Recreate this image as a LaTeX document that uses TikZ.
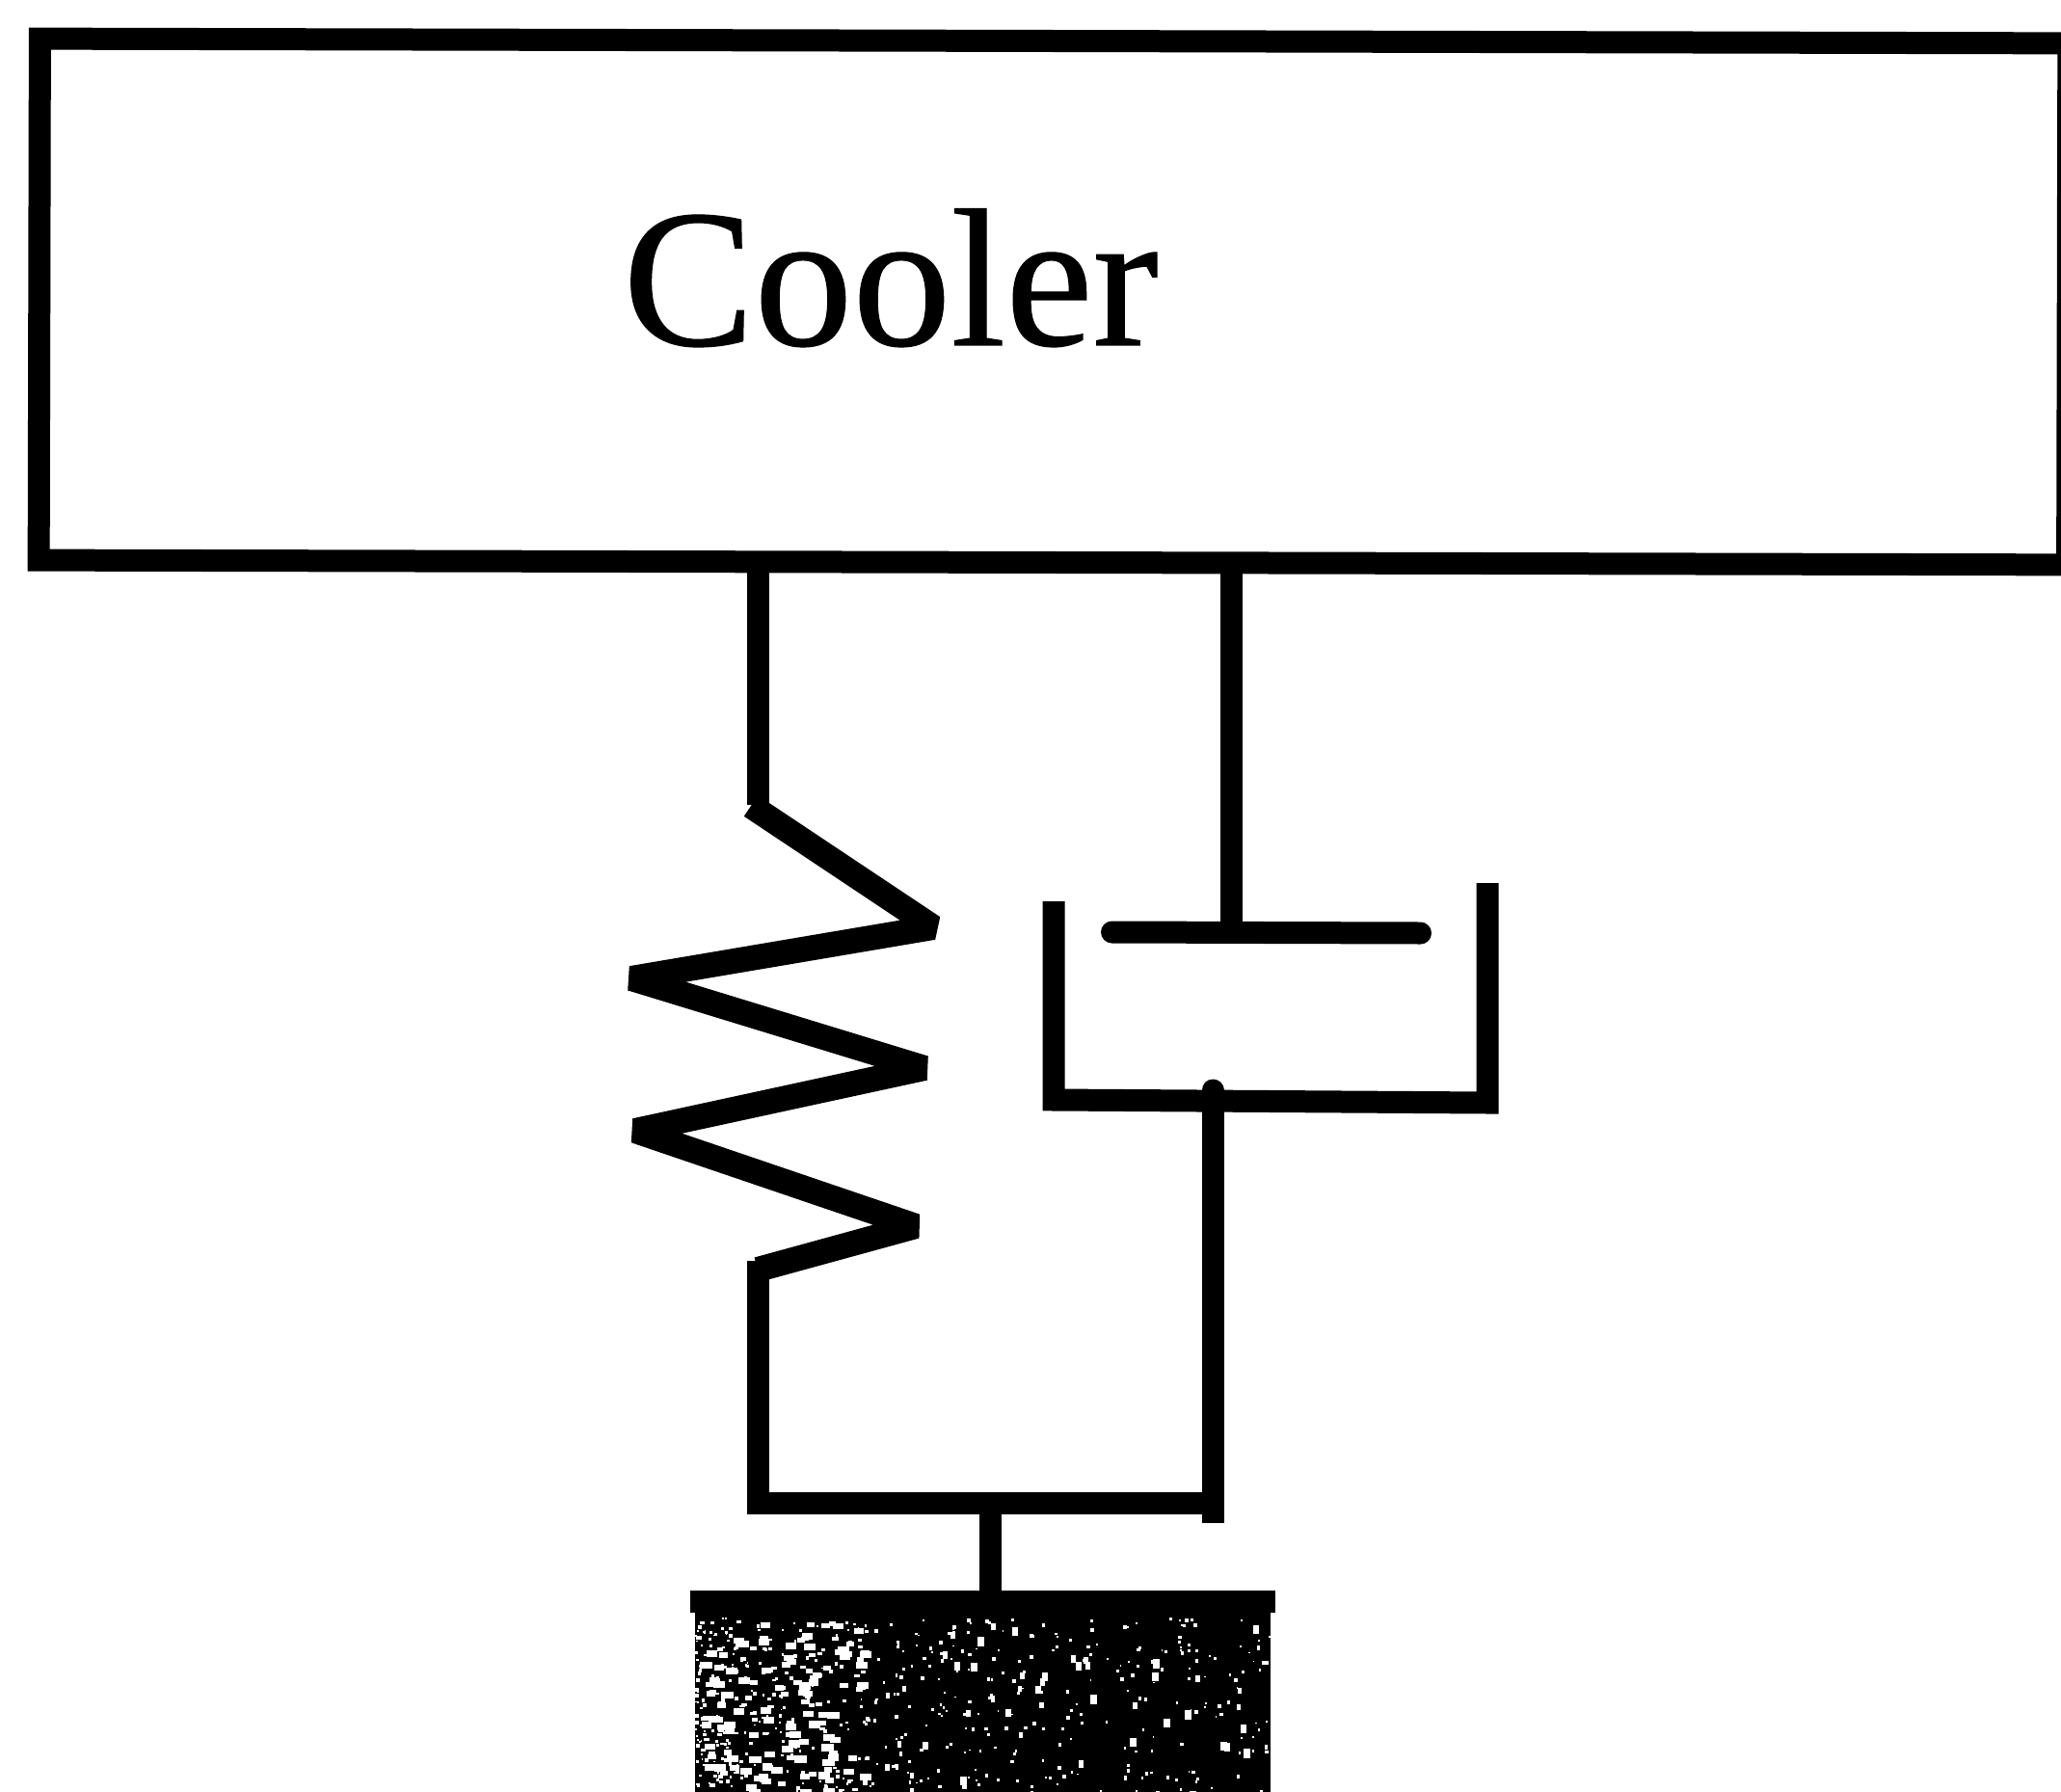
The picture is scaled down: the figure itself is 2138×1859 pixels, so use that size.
\documentclass[tikz,border=0pt]{standalone}
\usepackage{fontspec}
\setmainfont[FakeBold=0.6]{Liberation Serif}
\tikzset{
  heavy/.style={line width=23pt,black,line cap=butt,line join=bevel},
  coolerbox/.style={draw=black,line width=23pt,fill=white,rectangle,inner sep=0pt,outer sep=0pt,minimum width=2104.5pt,minimum height=541pt,rotate=-0.13},
  coolertext/.style={inner sep=0pt,outer sep=0pt,anchor=base,font=\fontsize{204}{204}\selectfont},
  speck/.style={fill=white,draw=none},
}
\begin{document}
\begin{tikzpicture}[x=1pt,y=-1pt]
\useasboundingbox (0,0) rectangle (2138,1859);
\clip (0,0) rectangle (2138,1859);
\fill[white] (0,0) rectangle (2138,1859);
\node[coolerbox] (cooler) at (1093,313) {};
\node[coolertext] (coolerlabel) at (924,358) {Cooler};
% spring
\coordinate (sa) at (786,583);
\coordinate (sb) at (786,835);
\coordinate (s0) at (779,836);
\coordinate (s1) at (968,962);
\coordinate (s2) at (655,1015);
\coordinate (s3) at (959,1108);
\coordinate (s4) at (659,1173);
\coordinate (s5) at (950,1272);
\coordinate (s6) at (786,1317);
\coordinate (sc) at (786,1308);
\coordinate (bl) at (786,1559);
\coordinate (br) at (1258,1559);
\draw[heavy] (sa) -- (sb);
\draw[heavy,line width=26pt] (s0) -- (s1) -- (s2) -- (s3) -- (s4) -- (s5) -- (s6);
\draw[heavy,line join=miter] (sc) -- (bl) -- (br);
% damper
\coordinate (rt) at (1277,583);
\coordinate (rb) at (1277,968);
\coordinate (pl) at (1142,967);
\coordinate (pr) at (1485,968);
\coordinate (cl) at (1093,935);
\coordinate (cbl) at (1093,1141);
\coordinate (cbr) at (1543,1144);
\coordinate (cr) at (1543,916);
\coordinate (lt) at (1258,1131);
\coordinate (lb) at (1258,1580);
\draw[heavy] (rt) -- (rb);
\draw[heavy,line cap=round] ([xshift=11.5pt]pl) -- ([xshift=-11.5pt]pr);
\draw[heavy,line join=miter] (cl) -- (cbl) -- (cbr) -- (cr);
\draw[heavy,line cap=round] (lt) -- (1258,1145);
\draw[heavy] (1258,1140) -- (lb);
% ground
\fill[black] (721,1673) rectangle (1318,1859);
\node[draw=none,fill=black,inner sep=0pt,outer sep=0pt,minimum width=607pt,minimum height=23pt] (ground) at (1019.5,1661.5) {};
\coordinate (stem) at (1027,1559);
\draw[heavy] (stem) -- (stem |- ground.north);
\pgfmathsetseed{4242}
\foreach \i in {1,...,500}{
  \pgfmathsetmacro{\rx}{721+597*pow(rnd,1.7)}
  \pgfmathsetmacro{\ry}{1678+181*rnd}
  \pgfmathsetmacro{\rs}{1.5+2.5*rnd}
  \fill[speck] (\rx,\ry) rectangle (\rx+\rs,\ry+\rs);
}
\foreach \i in {1,...,170}{
  \pgfmathsetmacro{\rx}{723+170*rnd}
  \pgfmathsetmacro{\ry}{1680+179*rnd}
  \pgfmathsetmacro{\rs}{4+9*rnd}
  \fill[speck] (\rx,\ry) rectangle (\rx+\rs,\ry+0.6*\rs);
}
\foreach \i in {1,...,60}{
  \pgfmathsetmacro{\rx}{890+425*rnd}
  \pgfmathsetmacro{\ry}{1680+179*rnd}
  \pgfmathsetmacro{\rs}{4+6*rnd}
  \fill[speck] (\rx,\ry) rectangle (\rx+0.7*\rs,\ry+\rs);
}
\end{tikzpicture}
\end{document}
